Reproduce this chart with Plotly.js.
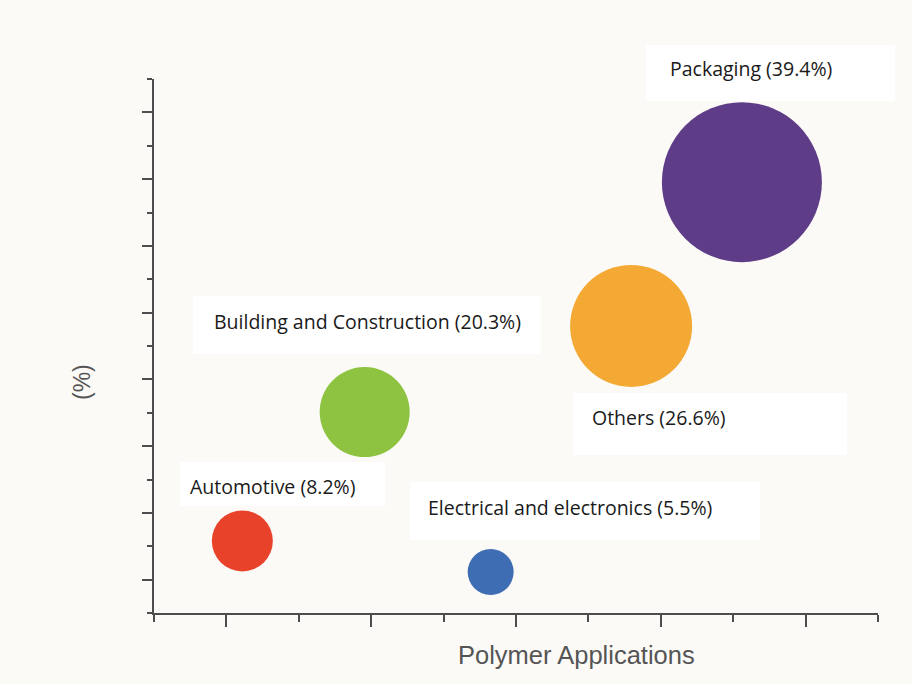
<!DOCTYPE html>
<html>
<head>
<meta charset="utf-8">
<script src="https://cdn.plot.ly/plotly-3.0.1.min.js"></script>
<style>
html,body{margin:0;padding:0;background:#fcfaf7;}
#chart{width:912px;height:684px;}
</style>
</head>
<body>
<div id="chart"></div>
<script>
// ---- data ----
const categories = ["Packaging", "Others", "Building and Construction", "Automotive", "Electrical and electronics"];
const shares = [39.4, 26.6, 20.3, 8.2, 5.5];
const xValues = [8.12, 6.59, 2.91, 1.22, 4.65];
const yValues = [12.91, 8.6, 6.02, 2.16, 1.23];
const bubbleSizes = [160, 122, 90, 61, 46];
const bubbleColors = ["#5e3c87", "#f4a934", "#8dc340", "#e8432a", "#3e6db4"];

// ---- layout helpers (pixel -> paper) ----
const M = {l:154, r:34, t:79, b:71};
const W = 912, H = 684;
const pw = W - M.l - M.r, ph = H - M.t - M.b;
const PX = px => (px - M.l) / pw;
const PY = py => (H - M.b - py) / ph;

// label text anchor (left, middle) and white boxes in pixels
const labelPos = [[668, 69], [590, 417], [212, 321], [188, 486], [426, 507]];
const boxPos = [[646, 45, 895, 101], [573, 393, 847, 455], [193, 296, 541, 354], [180, 462, 385, 506], [410, 482, 760, 540]];

const trace = {
  type: "scatter",
  mode: "markers",
  x: xValues,
  y: yValues,
  text: categories.map((c, i) => c + " (" + shares[i] + "%)"),
  hoverinfo: "text",
  marker: {size: bubbleSizes, sizemode: "diameter", color: bubbleColors, opacity: 1, line: {width: 0}},
  cliponaxis: false
};

const shapes = boxPos.map(b => ({
  type: "rect", xref: "paper", yref: "paper",
  x0: PX(b[0]), x1: PX(b[2]), y0: PY(b[3]), y1: PY(b[1]),
  fillcolor: "#ffffff", line: {width: 0}, layer: "below"
}));

const annotations = categories.map((c, i) => ({
  xref: "paper", yref: "paper",
  x: PX(labelPos[i][0]), y: PY(labelPos[i][1]),
  xanchor: "left", yanchor: "middle",
  text: c + " (" + shares[i].toFixed(1) + "%)",
  showarrow: false,
  font: {family: "Open Sans, sans-serif", size: 19.5, color: "#1a1a1a"}
}));
annotations.push({
  xref: "paper", yref: "paper", x: PX(576), y: PY(655),
  xanchor: "center", yanchor: "middle", showarrow: false,
  text: "Polymer Applications",
  font: {family: "Liberation Sans, Arial, sans-serif", size: 25.5, color: "#555555"}
});
annotations.push({
  xref: "paper", yref: "paper", x: PX(82), y: PY(382),
  xanchor: "center", yanchor: "middle", showarrow: false,
  text: "(%)", textangle: -90,
  font: {family: "Liberation Sans, Arial, sans-serif", size: 23, color: "#555555"}
});

const axisCommon = {
  showgrid: false, zeroline: false, showticklabels: false,
  showline: true, linecolor: "#4d4d4d", linewidth: 2,
  ticks: "outside", tickcolor: "#4d4d4d", tickwidth: 2,
  fixedrange: true
};

const layout = {
  width: W, height: H,
  margin: M,
  paper_bgcolor: "#fcfaf7",
  plot_bgcolor: "#fcfaf7",
  showlegend: false,
  xaxis: Object.assign({}, axisCommon, {
    range: [0, 10], tick0: 1, dtick: 2, ticklen: 12,
    minor: {dtick: 1, tick0: 0, ticks: "outside", ticklen: 7, tickcolor: "#4d4d4d", tickwidth: 2, showgrid: false}
  }),
  yaxis: Object.assign({}, axisCommon, {
    range: [0, 16], tick0: 1, dtick: 2, ticklen: 10,
    minor: {dtick: 1, tick0: 0, ticks: "outside", ticklen: 5, tickcolor: "#4d4d4d", tickwidth: 2, showgrid: false}
  }),
  shapes: shapes,
  annotations: annotations
};

Plotly.newPlot("chart", [trace], layout, {displayModeBar: false, staticPlot: true});
</script>
</body>
</html>
